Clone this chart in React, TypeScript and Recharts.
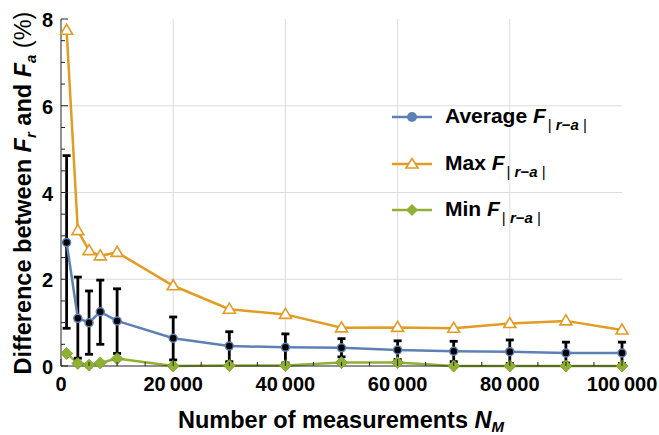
import React from 'react'
import {
  LineChart, Line, XAxis, YAxis, ErrorBar, ReferenceLine, Legend, Label,
} from 'recharts'

// ── Data ──────────────────────────────────────────────────────────────────────

const measurements = [1000, 3000, 5000, 7000, 10000, 20000, 30000, 40000, 50000, 60000, 70000, 80000, 90000, 100000]
const averageDiff = [2.85, 1.1, 1.0, 1.25, 1.04, 0.64, 0.46, 0.43, 0.42, 0.37, 0.34, 0.33, 0.3, 0.3]
const averageLow = [0.87, 0.18, 0.27, 0.5, 0.29, 0.14, 0.1, 0.07, 0.21, 0.15, 0.1, 0.06, 0.07, 0.06]
const averageHigh = [4.85, 2.05, 1.73, 1.98, 1.78, 1.13, 0.79, 0.74, 0.63, 0.58, 0.57, 0.6, 0.55, 0.55]
const maxDiff = [7.74, 3.12, 2.66, 2.54, 2.62, 1.85, 1.31, 1.19, 0.88, 0.89, 0.87, 0.98, 1.04, 0.83]
const minDiff = [0.29, 0.06, 0.02, 0.07, 0.17, 0.0, 0.01, 0.01, 0.08, 0.08, 0.0, 0.0, 0.0, 0.0]

const xTicks = [0, 5000, 10000, 15000, 20000, 25000, 30000, 35000, 40000, 45000, 50000, 55000, 60000,
  65000, 70000, 75000, 80000, 85000, 90000, 95000, 100000]
const xMajor = [0, 20000, 40000, 60000, 80000, 100000]
const yTicks = [0, 0.5, 1, 1.5, 2, 2.5, 3, 3.5, 4, 4.5, 5, 5.5, 6, 6.5, 7, 7.5, 8]
const yMajor = [0, 2, 4, 6, 8]
const xGrid = [20000, 40000, 60000, 80000]
const yGrid = [2, 4, 6]

const data = measurements.map((n, i) => ({
  n,
  avg: averageDiff[i],
  err: [averageDiff[i] - averageLow[i], averageHigh[i] - averageDiff[i]],
  max: maxDiff[i],
  min: minDiff[i],
}))

// ── Style ─────────────────────────────────────────────────────────────────────

const BLUE = '#5E81B5'
const ORANGE = '#E19C24'
const GREEN = '#8FB032'
const FRAME = '#222'
const FONT = '"Liberation Sans", Arial, sans-serif'

const fmt = (v: number) => String(v).replace(/\B(?=(\d{3})+(?!\d))/g, '\u2009')

// ── Ticks (drawn inward, labels outside) ──────────────────────────────────────

function BottomTick({ x, y, payload }: any) {
  const major = xMajor.includes(payload.value)
  return (
    <g>
      <line x1={x} x2={x} y1={y} y2={y - (major ? 7 : 4)} stroke={FRAME} strokeWidth={1} />
      {major && (
        <text x={x} y={y + 25} textAnchor="middle" fontFamily={FONT} fontWeight="bold" fontSize={20} fill="#000">
          {fmt(payload.value)}
        </text>
      )}
    </g>
  )
}

function TopTick({ x, y, payload }: any) {
  const major = xMajor.includes(payload.value)
  return <line x1={x} x2={x} y1={y} y2={y + (major ? 7 : 4)} stroke={FRAME} strokeWidth={1} />
}

function LeftTick({ x, y, payload }: any) {
  const major = yMajor.includes(payload.value)
  return (
    <g>
      <line x1={x} x2={x + (major ? 7 : 4)} y1={y} y2={y} stroke={FRAME} strokeWidth={1} />
      {major && (
        <text x={x - 8} y={y + 8} textAnchor="end" fontFamily={FONT} fontWeight="bold" fontSize={20} fill="#000">
          {payload.value}
        </text>
      )}
    </g>
  )
}

function RightTick({ x, y, payload }: any) {
  const major = yMajor.includes(payload.value)
  return <line x1={x} x2={x - (major ? 7 : 4)} y1={y} y2={y} stroke={FRAME} strokeWidth={1} />
}

// ── Markers ───────────────────────────────────────────────────────────────────

function Triangle({ cx, cy }: any) {
  if (cx == null || cy == null) return null
  return (
    <polygon points={`${cx},${cy - 6} ${cx - 6},${cy + 4} ${cx + 6},${cy + 4}`}
      fill="#fff" stroke={ORANGE} strokeWidth={1.6} />
  )
}

function Diamond({ cx, cy }: any) {
  if (cx == null || cy == null) return null
  return (
    <polygon points={`${cx},${cy - 6} ${cx + 6},${cy} ${cx},${cy + 6} ${cx - 6},${cy}`}
      fill={GREEN} stroke="#7A9A2A" strokeWidth={0.8} />
  )
}

// ── Legend ────────────────────────────────────────────────────────────────────

function Sub() {
  return (
    <span style={{ fontSize: 15, position: 'relative', top: 7, marginLeft: 2 }}>
      <span style={{ fontStyle: 'normal', fontWeight: 'normal' }}>|</span>
      {' '}<i>r</i>−<i>a</i>{' '}
      <span style={{ fontStyle: 'normal', fontWeight: 'normal' }}>|</span>
    </span>
  )
}

const legendItems = [
  { label: 'Average', color: BLUE, marker: 'circle' },
  { label: 'Max', color: ORANGE, marker: 'triangle' },
  { label: 'Min', color: GREEN, marker: 'diamond' },
]

function LegendMarker({ color, marker }: { color: string; marker: string }) {
  return (
    <svg width={40} height={14} style={{ display: 'block' }}>
      <line x1={0} x2={40} y1={7} y2={7} stroke={color} strokeWidth={2.5} />
      {marker === 'circle' && <circle cx={20} cy={7} r={5} fill={color} />}
      {marker === 'triangle' && (
        <polygon points="20,1.5 14,11 26,11" fill="#fff" stroke={color} strokeWidth={1.6} />
      )}
      {marker === 'diamond' && <polygon points="20,1 26,7 20,13 14,7" fill={color} />}
    </svg>
  )
}

function LegendBox() {
  return (
    <div style={{ fontFamily: FONT, fontWeight: 'bold', fontSize: 21, color: '#000' }}>
      {legendItems.map((it) => (
        <div key={it.label} style={{ display: 'flex', alignItems: 'center', height: 46.5 }}>
          <LegendMarker color={it.color} marker={it.marker} />
          <span style={{ marginLeft: 13, whiteSpace: 'nowrap', lineHeight: '24px' }}>
            {it.label} <i>F</i><Sub />
          </span>
        </div>
      ))}
    </div>
  )
}

// ── Axis titles ───────────────────────────────────────────────────────────────

function YTitle() {
  const cx = 31
  const cy = 193
  return (
    <text x={cx} y={cy} transform={`rotate(-90, ${cx}, ${cy})`} textAnchor="middle"
      fontFamily={FONT} fontWeight="bold" fontSize={23.5} fill="#000">
      Difference between <tspan fontStyle="italic">F</tspan>
      <tspan fontStyle="italic" fontSize={15} dy={5}>r</tspan>
      <tspan dy={-5}> and </tspan><tspan fontStyle="italic">F</tspan>
      <tspan fontStyle="italic" fontSize={15} dy={5}>a</tspan>
      <tspan dy={-5} fontWeight="normal"> (%)</tspan>
    </text>
  )
}

function XTitle({ viewBox }: any) {
  return (
    <text x={341} y={viewBox.y + 62} textAnchor="middle"
      fontFamily={FONT} fontWeight="bold" fontSize={23.5} fill="#000">
      Number of measurements <tspan fontStyle="italic">N</tspan>
      <tspan fontStyle="italic" fontSize={15} dy={3.5}>M</tspan>
    </text>
  )
}

// ── Component ─────────────────────────────────────────────────────────────────

export default function App() {
  return (
    <div style={{ width: 659, height: 435, background: '#fff' }}>
      <style>{'body{margin:0}'}</style>
      <LineChart width={659} height={435} data={data}
        margin={{ top: 19, right: 37, left: 0, bottom: 0 }}>
        <XAxis dataKey="n" type="number" domain={[0, 100000]} ticks={xTicks} interval={0}
          height={69} tickSize={0} tickMargin={0} tick={BottomTick}
          axisLine={{ stroke: FRAME, strokeWidth: 1 }}>
          <Label content={XTitle} />
        </XAxis>
        <XAxis xAxisId="top" orientation="top" dataKey="n" type="number" domain={[0, 100000]}
          ticks={xTicks} interval={0} height={0} tickSize={0} tickMargin={0} tick={TopTick}
          axisLine={{ stroke: FRAME, strokeWidth: 1 }} />
        <YAxis type="number" domain={[0, 8]} ticks={yTicks} interval={0} width={61}
          tickSize={0} tickMargin={0} tick={LeftTick} axisLine={{ stroke: FRAME, strokeWidth: 1 }}>
          <Label content={YTitle} />
        </YAxis>
        <YAxis yAxisId="right" orientation="right" type="number" domain={[0, 8]} ticks={yTicks}
          interval={0} width={0} tickSize={0} tickMargin={0} tick={RightTick}
          axisLine={{ stroke: FRAME, strokeWidth: 1 }} />

        {xGrid.map((v) => (
          <ReferenceLine key={'x' + v} x={v} stroke="#dcdcdc" strokeWidth={1} />
        ))}
        {yGrid.map((v) => (
          <ReferenceLine key={'y' + v} y={v} stroke="#dcdcdc" strokeWidth={1} />
        ))}

        <Line dataKey="min" stroke={GREEN} strokeWidth={2.5} dot={<Diamond />}
          isAnimationActive={false} />
        <Line dataKey="max" stroke={ORANGE} strokeWidth={2.5} dot={<Triangle />}
          isAnimationActive={false} />
        <Line dataKey="avg" stroke={BLUE} strokeWidth={2.5}
          dot={{ r: 4, fill: '#000', stroke: BLUE, strokeWidth: 1.5 }}
          isAnimationActive={false}>
          <ErrorBar dataKey="err" direction="y" width={4} stroke="#000" strokeWidth={2.8}
            isAnimationActive={false} />
        </Line>

        <Legend layout="vertical" align="center" verticalAlign="middle" content={LegendBox}
          wrapperStyle={{ position: 'absolute', left: 392, top: 94, width: 240, height: 140 }} />
      </LineChart>
    </div>
  )
}
